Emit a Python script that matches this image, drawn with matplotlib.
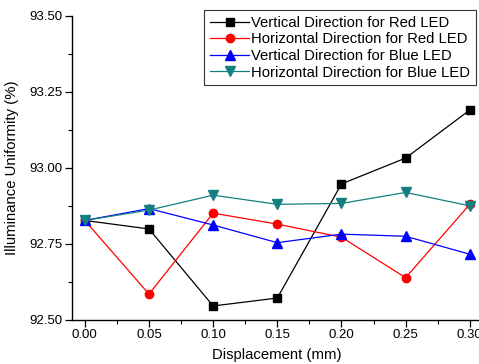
import matplotlib.pyplot as plt
from matplotlib.ticker import MultipleLocator

plt.rcParams["font.family"] = ["Liberation Sans", "DejaVu Sans"]

displacement = [0.00, 0.05, 0.10, 0.15, 0.20, 0.25, 0.30]
vert_red = [92.827, 92.799, 92.546, 92.572, 92.947, 93.032, 93.190]
horiz_red = [92.827, 92.585, 92.851, 92.815, 92.772, 92.639, 92.880]
vert_blue = [92.827, 92.866, 92.812, 92.754, 92.782, 92.775, 92.716]
horiz_blue = [92.827, 92.861, 92.910, 92.880, 92.883, 92.919, 92.875]


def main():
    fig = plt.figure(figsize=(4.79, 3.64), dpi=100)
    ax = fig.add_axes([0.150, 0.121, 0.8576, 0.836])

    ax.plot(displacement, vert_red, color="black", marker="s", ms=5.5, lw=0.9,
            label="Vertical Direction for Red LED", clip_on=False)
    ax.plot(displacement, horiz_red, color="red", marker="o", ms=6, lw=0.9,
            label="Horizontal Direction for Red LED", clip_on=False)
    ax.plot(displacement, vert_blue, color="blue", marker="^", ms=6.5, lw=0.9,
            label="Vertical Direction for Blue LED", clip_on=False)
    ax.plot(displacement, horiz_blue, color="#128080", marker="v", ms=6.5, lw=0.9,
            label="Horizontal Direction for Blue LED", clip_on=False)

    ax.set_xlim(-0.0101, 0.31)
    ax.set_ylim(92.5, 93.5)
    ax.xaxis.set_major_locator(MultipleLocator(0.05))
    ax.xaxis.set_minor_locator(MultipleLocator(0.025))
    ax.yaxis.set_major_locator(MultipleLocator(0.25))
    ax.yaxis.set_minor_locator(MultipleLocator(0.125))
    ax.xaxis.set_major_formatter(plt.FormatStrFormatter("%.2f"))
    ax.yaxis.set_major_formatter(plt.FormatStrFormatter("%.2f"))

    ax.spines["top"].set_visible(False)
    ax.spines["right"].set_visible(False)
    ax.spines["left"].set_linewidth(1.0)
    ax.spines["bottom"].set_linewidth(1.0)
    ax.tick_params(which="major", direction="out", length=5, width=0.9,
                   labelsize=9.5, pad=1.5)
    ax.tick_params(which="minor", direction="out", length=3, width=0.8)

    ax.set_xlabel("Displacement (mm)", fontsize=10.7, labelpad=5)
    ax.set_ylabel("Illuminance Uniformity (%)", fontsize=10.7, labelpad=8)

    leg = ax.legend(loc="upper right", bbox_to_anchor=(476 / 479, 1 - 10 / 364),
                    bbox_transform=fig.transFigure, fontsize=10.7, frameon=True,
                    fancybox=False, edgecolor="black", handlelength=2.6,
                    handletextpad=0.15, borderpad=0.4, labelspacing=0.17,
                    borderaxespad=0)
    leg.get_frame().set_linewidth(0.8)

    fig.savefig("out.png", dpi=100)


if __name__ == "__main__":
    main()
